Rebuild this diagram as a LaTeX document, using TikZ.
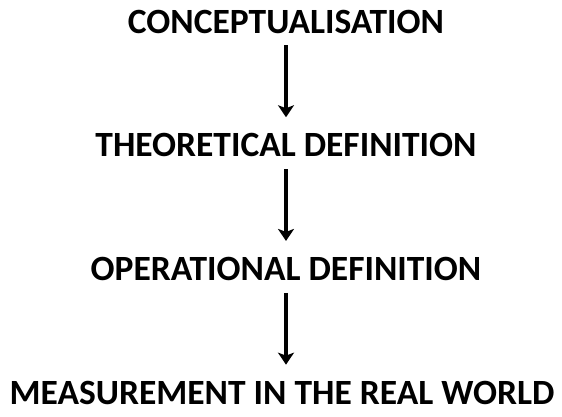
\documentclass[tikz,border=0pt]{standalone}
\usepackage{fontspec}
\setmainfont{Carlito}
\usepackage{tikz}
\usetikzlibrary{arrows.meta,positioning}
\definecolor{ink}{HTML}{000000}
\tikzset{
  stage/.style={inner sep=0pt, text height=22.5pt, text depth=0pt, font=\fontsize{35.5}{40}\selectfont\bfseries, text=ink},
  arrow/.style={-{Stealth[length=12pt,width=16pt,inset=3pt]}, line width=3.4pt, draw=ink, shorten <=12pt, shorten >=17pt}
}
\begin{document}
\begin{tikzpicture}[node distance=100.8pt]
  \useasboundingbox (0,0) rectangle (562pt,416pt);
  \node[stage] (concept) at (286pt,394pt) {CONCEPTUALISATION};
  \node[stage, below=of concept] (theory) {THEORETICAL DEFINITION};
  \node[stage, below=of theory] (operate) {OPERATIONAL DEFINITION};
  \node[stage, below=of operate, xshift=-4pt] (measure) {MEASUREMENT IN THE REAL WORLD};
  \draw[arrow] (concept) -- (theory);
  \draw[arrow] (theory) -- (operate);
  \draw[arrow] (operate.south) -- (operate.south |- measure.north);
\end{tikzpicture}
\end{document}
